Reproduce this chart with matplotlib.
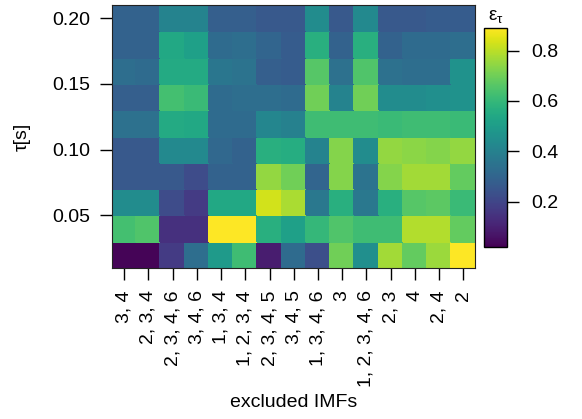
import matplotlib
matplotlib.use("Agg")
import matplotlib.pyplot as plt
import numpy as np

plt.rcParams['font.family'] = ['Liberation Sans', 'DejaVu Sans']

labels = ["3, 4", "2, 3, 4", "2, 3, 4, 6", "3, 4, 6", "1, 3, 4", "1, 2, 3, 4",
          "2, 3, 4, 5", "3, 4, 5", "1, 3, 4, 6", "3", "1, 2, 3, 4, 6", "2, 3",
          "4", "2, 4", "2"]
taus = [0.02, 0.04, 0.06, 0.08, 0.10, 0.12, 0.14, 0.16, 0.18, 0.20]

# rows listed from tau = 0.02 (bottom) to tau = 0.20 (top)
row_002 = [0.03, 0.03, 0.17, 0.33, 0.49, 0.62, 0.09, 0.32, 0.23, 0.70, 0.45, 0.77, 0.68, 0.76, 0.89]
row_004 = [0.63, 0.65, 0.14, 0.14, 0.89, 0.89, 0.57, 0.51, 0.60, 0.65, 0.62, 0.62, 0.79, 0.79, 0.68]
row_006 = [0.44, 0.44, 0.22, 0.17, 0.54, 0.54, 0.83, 0.78, 0.37, 0.57, 0.37, 0.57, 0.66, 0.67, 0.61]
row_008 = [0.26, 0.26, 0.26, 0.22, 0.29, 0.29, 0.75, 0.70, 0.30, 0.73, 0.35, 0.73, 0.77, 0.77, 0.68]
row_010 = [0.26, 0.26, 0.43, 0.43, 0.31, 0.29, 0.57, 0.56, 0.41, 0.73, 0.44, 0.75, 0.74, 0.73, 0.75]
row_012 = [0.34, 0.34, 0.55, 0.54, 0.32, 0.32, 0.42, 0.40, 0.62, 0.62, 0.62, 0.61, 0.62, 0.62, 0.61]
row_014 = [0.28, 0.28, 0.63, 0.61, 0.32, 0.33, 0.33, 0.32, 0.70, 0.41, 0.70, 0.44, 0.44, 0.45, 0.46]
row_016 = [0.33, 0.32, 0.55, 0.55, 0.36, 0.35, 0.28, 0.27, 0.66, 0.34, 0.65, 0.34, 0.33, 0.33, 0.46]
row_018 = [0.29, 0.29, 0.54, 0.51, 0.32, 0.33, 0.30, 0.27, 0.57, 0.29, 0.57, 0.29, 0.32, 0.32, 0.33]
row_020 = [0.29, 0.29, 0.41, 0.41, 0.28, 0.28, 0.26, 0.26, 0.44, 0.26, 0.43, 0.26, 0.26, 0.27, 0.27]

Z = np.array([row_002, row_004, row_006, row_008, row_010,
              row_012, row_014, row_016, row_018, row_020])

vmin, vmax = 0.02, 0.89
fs = 14

fig = plt.figure(figsize=(5.82, 4.19), dpi=100)
ax = fig.add_axes([0.1924, 0.3604, 0.6246, 0.6276])

xe = np.arange(len(labels) + 1) - 0.5
dt = taus[1] - taus[0]
ye = np.concatenate([[taus[0] - dt / 2], np.array(taus) + dt / 2])
mesh = ax.pcolormesh(xe, ye, Z, cmap='viridis', vmin=vmin, vmax=vmax,
                     shading='flat', edgecolors='face', linewidth=0.3)

ax.set_xlim(xe[0], xe[-1])
ax.set_ylim(ye[0], ye[-1])
ax.set_xticks(np.arange(len(labels)))
ax.set_xticklabels(labels, rotation=90, ha='center', va='top')
ax.set_yticks([0.05, 0.10, 0.15, 0.20])
ax.set_yticklabels(["0.05", "0.10", "0.15", "0.20"])
ax.tick_params(axis='both', direction='out', length=8.5, width=1.0,
               labelsize=fs, colors='black')
ax.tick_params(axis='x', pad=7.5)
ax.tick_params(axis='y', pad=7)
for s in ax.spines.values():
    s.set_linewidth(0.8)
    s.set_color('#222222')

ax.set_xlabel("excluded IMFs", fontsize=fs, va='center')
ax.xaxis.set_label_coords(0.5, -0.513)
ax.set_ylabel("τ[s]", fontsize=fs, va='center')
ax.yaxis.set_label_coords(-0.2476, 0.5)

cax = fig.add_axes([0.8316, 0.4105, 0.0395, 0.5227])
cb = fig.colorbar(mesh, cax=cax)
cb.set_ticks([0.2, 0.4, 0.6, 0.8])
cb.set_ticklabels(["0.2", "0.4", "0.6", "0.8"])
cb.ax.tick_params(length=8.5, width=1.0, labelsize=fs, pad=9)
cb.outline.set_linewidth(1.0)
cb.outline.set_edgecolor('black')
fig.text(0.8514, 0.940, r"$\mathregular{ε_{τ}}$", ha='center', va='bottom', fontsize=13.5)

fig.savefig("out.png", dpi=100)
